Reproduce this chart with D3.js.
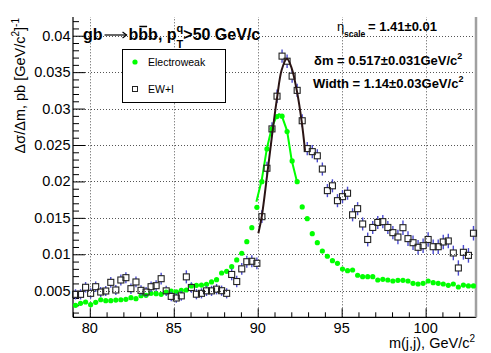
<!DOCTYPE html>
<html>
<head>
<meta charset="utf-8">
<script src="https://cdn.jsdelivr.net/npm/d3@7"></script>
<style>
  body { margin: 0; background: #fff; }
  text { font-family: "Liberation Sans", Arial, Helvetica, sans-serif; }
</style>
</head>
<body>
<script>
const width = 491;
const height = 353;
const margin = { left: 73, top: 17, right: 15, bottom: 36 };

// bin centres, GeV/c^2 (0.3 GeV bins from 79 to 103)
const binLow = 79.0;
const binWidth = 0.3;

// Electroweak, green points
const ewValues = [
  0.0030, 0.00327, 0.00345, 0.00308, 0.0034, 0.00376, 0.00363, 0.00363, 0.00372, 0.00376,
  0.00382, 0.00404, 0.0039, 0.00431, 0.00437, 0.00464, 0.00459, 0.0045, 0.00482, 0.00496,
  0.00486, 0.00505, 0.0051, 0.00565, 0.00574, 0.00578, 0.00588, 0.0062, 0.00651, 0.00743,
  0.00766, 0.0083, 0.00922, 0.01014, 0.01173, 0.01365, 0.01645, 0.01997, 0.02446, 0.02721,
  0.0289, 0.02896, 0.02684, 0.02282, 0.01997, 0.0165, 0.01489, 0.01283, 0.0116, 0.01045,
  0.00973, 0.00912, 0.00876, 0.00798, 0.00775, 0.00784, 0.00712, 0.00692, 0.00692, 0.00692,
  0.00647, 0.00656, 0.00647, 0.00633, 0.00643, 0.00643, 0.00633, 0.00602, 0.00592, 0.00602,
  0.00633, 0.0061, 0.00602, 0.00592, 0.00574, 0.00592, 0.00551, 0.00578, 0.00565, 0.00565
];

// EW+I, open squares with errors
const ewiValues = [
  0.0045, 0.0045, 0.00547, 0.00464, 0.00555, 0.00482, 0.00496, 0.00615, 0.0051, 0.00647,
  0.00679, 0.00528, 0.0062, 0.00505, 0.00482, 0.00555, 0.00569, 0.00665, 0.00498, 0.00422,
  0.0040, 0.00429, 0.0069, 0.00544, 0.00452, 0.00464, 0.00498, 0.00498, 0.00521, 0.0050,
  0.00464, 0.00723, 0.00626, 0.0080, 0.00898, 0.00904, 0.00876, 0.01516, 0.02181, 0.02721,
  0.0317, 0.0372, 0.0365, 0.03445, 0.0325, 0.02833, 0.02451, 0.02409, 0.02352, 0.0217,
  0.01874, 0.0194, 0.01736, 0.01791, 0.01838, 0.01542, 0.01626, 0.01416, 0.01203, 0.01368,
  0.01437, 0.01448, 0.01368, 0.01297, 0.01237, 0.01365, 0.01215, 0.01159, 0.01096, 0.01118,
  0.01203, 0.01104, 0.01104, 0.01169, 0.01183, 0.01018, 0.00812, 0.01027, 0.00985, 0.01289
];
const ewiErrors = [
  0.0007, 0.0007, 0.00072, 0.0007, 0.00072, 0.0007, 0.0007, 0.00074, 0.0007, 0.00075,
  0.00075, 0.00072, 0.00074, 0.0007, 0.0007, 0.00072, 0.00073, 0.0008, 0.0007, 0.00065,
  0.00065, 0.00066, 0.0009, 0.00072, 0.0007, 0.0007, 0.0007, 0.0007, 0.00072, 0.0007,
  0.0007, 0.0008, 0.00078, 0.0008, 0.00082, 0.00082, 0.0008, 0.00088, 0.0009, 0.0009,
  0.00092, 0.00092, 0.00092, 0.00092, 0.00092, 0.0009, 0.0009, 0.0009, 0.0009, 0.0009,
  0.0009, 0.0009, 0.0009, 0.0009, 0.0009, 0.0009, 0.0009, 0.0009, 0.00095, 0.0009,
  0.0009, 0.0009, 0.0009, 0.0009, 0.001, 0.001, 0.001, 0.001, 0.001, 0.001,
  0.001, 0.001, 0.001, 0.001, 0.001, 0.001, 0.00105, 0.001, 0.001, 0.001
];

// green line through the Electroweak peak
const ewLineM = [89.92, 90.24, 90.55, 90.83, 91.11, 91.27, 91.43, 91.75, 92.02, 92.34];
const ewLineV = [0.01722, 0.0202, 0.02456, 0.0273, 0.0289, 0.02923, 0.02904, 0.02694, 0.02295, 0.01997];

// black fit over the EW+I peak
const fitM = [90.04, 90.24, 90.55, 90.87, 91.15, 91.43, 91.74, 92.02, 92.34, 92.62, 92.82];
const fitV = [0.01289, 0.01516, 0.02066, 0.02662, 0.03143, 0.03532, 0.03683, 0.03555, 0.03233, 0.02821, 0.02419];

const xTicks = [80, 85, 90, 95, 100];
const yTicks = [0.005, 0.01, 0.015, 0.02, 0.025, 0.03, 0.035, 0.04];

const svg = d3.select("body").append("svg")
    .attr("width", width)
    .attr("height", height);

svg.append("rect")
    .attr("width", width)
    .attr("height", height)
    .attr("fill", "white");

const x = d3.scaleLinear().domain([79, 103]).range([margin.left, 476]);
const y = d3.scaleLinear().domain([0.00135, 0.04257]).range([317.3, margin.top]);
const x0 = x.range()[0], x1 = x.range()[1];
const y0 = y.range()[0], y1 = y.range()[1];

// grid
const grid = svg.append("g")
    .attr("stroke", "#555")
    .attr("stroke-width", 1)
    .attr("stroke-dasharray", "1,2");
grid.selectAll(".gx").data(xTicks).join("line")
    .attr("x1", d => Math.round(x(d)) + 0.5).attr("x2", d => Math.round(x(d)) + 0.5)
    .attr("y1", y0).attr("y2", y1);
grid.selectAll(".gy").data(yTicks).join("line")
    .attr("x1", x0).attr("x2", x1)
    .attr("y1", d => Math.round(y(d)) + 0.5).attr("y2", d => Math.round(y(d)) + 0.5);

// axes (ROOT style: ticks inside the frame)
const xAxis = d3.axisTop(x).tickValues(d3.range(79, 103.5, 1)).tickSize(5).tickFormat("");
svg.append("g").attr("transform", `translate(0,${y0})`).call(xAxis)
    .call(g => g.select(".domain").remove())
    .call(g => g.selectAll(".tick line").filter(d => d % 5 === 0).attr("y2", -9));

const yMinor = d3.range(0.002, 0.0425, 0.001);
const yAxis = d3.axisRight(y).tickValues(yMinor).tickSize(6).tickFormat("");
svg.append("g").attr("transform", `translate(${x0},0)`).call(yAxis)
    .call(g => g.select(".domain").remove())
    .call(g => g.selectAll(".tick line")
        .filter(d => Math.abs(d * 200 - Math.round(d * 200)) < 1e-6).attr("x2", 12));

// tick labels
svg.append("g").selectAll("text").data(xTicks).join("text")
    .attr("x", d => x(d)).attr("y", 333)
    .attr("text-anchor", "middle")
    .attr("font-size", 14.5)
    .text(d => d);
svg.append("g").selectAll("text").data(yTicks).join("text")
    .attr("x", 70.5).attr("y", d => y(d) + 5)
    .attr("text-anchor", "end")
    .attr("font-size", 14.5)
    .text(d => d);

// frame
svg.append("line").attr("x1", x0).attr("x2", x0).attr("y1", y1).attr("y2", y0)
    .attr("stroke", "black").attr("stroke-width", 1.2);
svg.append("line").attr("x1", x0).attr("x2", x1).attr("y1", y0).attr("y2", y0)
    .attr("stroke", "black").attr("stroke-width", 1.2);
svg.append("line").attr("x1", x1).attr("x2", x1).attr("y1", y1).attr("y2", y0)
    .attr("stroke", "#a0a0a0").attr("stroke-width", 2.5);

const centre = i => binLow + binWidth * (i + 0.5);

// Electroweak points
svg.append("g").selectAll("circle").data(ewValues).join("circle")
    .attr("cx", (d, i) => x(centre(i)))
    .attr("cy", d => y(d))
    .attr("r", 2.6)
    .attr("fill", "#00ff00");

svg.append("path")
    .datum(d3.zip(ewLineM, ewLineV))
    .attr("fill", "none")
    .attr("stroke", "#00ff00")
    .attr("stroke-width", 2)
    .attr("d", d3.line().x(d => x(d[0])).y(d => y(d[1])));

// EW+I points with error bars
const half = 3;
const ewi = svg.append("g");
ewi.selectAll(".eu").data(ewiValues).join("line")
    .attr("x1", (d, i) => x(centre(i))).attr("x2", (d, i) => x(centre(i)))
    .attr("y1", (d, i) => y(d + ewiErrors[i])).attr("y2", d => y(d) - half)
    .attr("stroke", "#4b4bd0").attr("stroke-width", 1.4);
ewi.selectAll(".ed").data(ewiValues).join("line")
    .attr("x1", (d, i) => x(centre(i))).attr("x2", (d, i) => x(centre(i)))
    .attr("y1", (d, i) => y(d - ewiErrors[i])).attr("y2", d => y(d) + half)
    .attr("stroke", "#4b4bd0").attr("stroke-width", 1.4);
ewi.selectAll("rect").data(ewiValues).join("rect")
    .attr("x", (d, i) => x(centre(i)) - half)
    .attr("y", d => y(d) - half)
    .attr("width", half * 2).attr("height", half * 2)
    .attr("fill", "none")
    .attr("stroke", "#222").attr("stroke-width", 1.1);

// fit curve
svg.append("path")
    .datum(d3.zip(fitM, fitV))
    .attr("fill", "none")
    .attr("stroke", "#2a1414")
    .attr("stroke-width", 2)
    .attr("d", d3.line().x(d => x(d[0])).y(d => y(d[1])).curve(d3.curveCatmullRom));

// legend
const leg = svg.append("g");
leg.append("rect").attr("x", 122.5).attr("y", 49.5).attr("width", 103).attr("height", 53)
    .attr("fill", "white").attr("stroke", "black").attr("stroke-width", 1);
leg.append("circle").attr("cx", 135).attr("cy", 62).attr("r", 2.6).attr("fill", "#00ff00");
leg.append("text").attr("x", 148).attr("y", 66).attr("font-size", 10.5).text("Electroweak");
leg.append("rect").attr("x", 132.5).attr("y", 86.5).attr("width", 5).attr("height", 5)
    .attr("fill", "none").attr("stroke", "#222");
leg.append("text").attr("x", 148).attr("y", 93).attr("font-size", 10.5).text("EW+I");

// rich text: pieces drawn one after another, or at a fixed x when given
function rich(x, y, parts, base) {
  let cx = x;
  parts.forEach(p => {
    if (p.x !== undefined) cx = p.x;
    if (p.arrow) {
      const ay = y - 5;
      svg.append("line").attr("x1", cx + 2).attr("x2", cx + p.arrow - 2)
          .attr("y1", ay).attr("y2", ay).attr("stroke", "black").attr("stroke-width", 1.2);
      svg.append("path")
          .attr("d", `M${cx + p.arrow - 6},${ay - 3}L${cx + p.arrow - 2},${ay}L${cx + p.arrow - 6},${ay + 3}`)
          .attr("fill", "none").attr("stroke", "black").attr("stroke-width", 1.2);
      cx += p.arrow;
      return;
    }
    const t = svg.append("text")
        .attr("x", cx).attr("y", y + (p.dy || 0))
        .attr("font-size", p.size || base.size)
        .attr("font-weight", p.weight || base.weight)
        .text(p.t);
    const w = t.node().getComputedTextLength();
    if (p.over) {
      svg.append("line").attr("x1", cx + 1).attr("x2", cx + w - 1)
          .attr("y1", y - 13.5).attr("y2", y - 13.5)
          .attr("stroke", "black").attr("stroke-width", 1.5);
    }
    if (!p.stay) cx += w;
  });
}

rich(83, 40, [
  { t: "gb" }, { arrow: 26 }, { t: "b" }, { t: "b", over: true },
  { t: "b, p" }, { t: "q", size: 11, dy: -8, stay: true }, { t: "T", size: 11, dy: 8 },
  { t: ">50 GeV/c" }
], { size: 16, weight: "bold" });

rich(337, 31, [
  { t: "\u03b7", weight: "normal", size: 13 }, { t: "scale", size: 8.5, dy: 6, x: 344 },
  { t: "=  1.41\u00b10.01", x: 368 }
], { size: 13, weight: "bold" });

rich(314, 65, [
  { t: "\u03b4m = 0.517\u00b10.031GeV/c" }, { t: "2", size: 9, dy: -6 }
], { size: 13, weight: "bold" });

rich(313, 88, [
  { t: "Width = 1.14\u00b10.03GeV/c" }, { t: "2", size: 9, dy: -6 }
], { size: 13, weight: "bold" });

// axis titles
const xt = svg.append("text").attr("x", 475).attr("y", 348)
    .attr("text-anchor", "end").attr("font-size", 14.5);
xt.append("tspan").text("m(j,j), GeV/c");
xt.append("tspan").attr("dy", -6).attr("font-size", 10).text("2");

const yt = svg.append("text")
    .attr("transform", "translate(25,18) rotate(-90)")
    .attr("text-anchor", "end").attr("font-size", 14.5);
yt.append("tspan").text("\u0394\u03c3/\u0394m, pb [GeV/c");
yt.append("tspan").attr("dy", -6).attr("font-size", 10).text("2");
yt.append("tspan").attr("dy", 6).text("]");
yt.append("tspan").attr("dy", -6).attr("font-size", 10).text("-1");
</script>
</body>
</html>
